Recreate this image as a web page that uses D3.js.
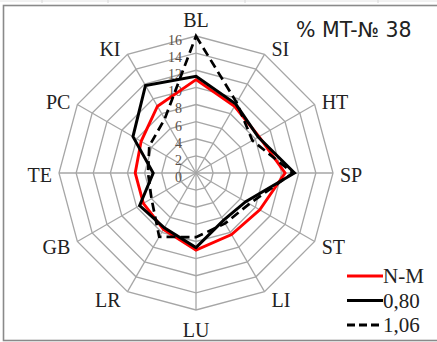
<!DOCTYPE html>
<html>
<head>
<meta charset="utf-8">
<script src="https://cdn.jsdelivr.net/npm/d3@7"></script>
<style>
  body { margin: 0; background: #fff; }
  svg { display: block; }
  .serif { font-family: "Liberation Serif", "Times New Roman", serif; }
</style>
</head>
<body>
<svg width="437" height="342"></svg>
<script>
// axes, clockwise from the top
const axes = ["BL", "SI", "HT", "SP", "ST", "LI", "LU", "LR", "GB", "TE", "PC", "KI"];
const seriesNames = ["N-M", "0,80", "1,06"];
const valuesNM  = [10.9, 9.0, 8.5, 10.4, 8.6, 8.3, 9.0, 7.6, 7.1, 7.1, 7.4, 9.0];
const values080 = [11.3, 9.3, 8.4, 11.5, 6.7, 6.4, 8.7, 7.4, 7.6, 5.0, 8.5, 11.8];
const values106 = [16.0, 9.5, 7.6, 11.3, 7.2, 6.8, 7.5, 8.6, 6.0, 5.6, 6.3, 7.3];
const tickValues = [0, 2, 4, 6, 8, 10, 12, 14, 16];
const title = "% MT-№  38";

const svg = d3.select("svg"),
      cx = 196, cy = 173,
      outer = 137;

const rScale = d3.scaleLinear().domain([0, 16]).range([0, outer]);
const aScale = d3.scaleLinear().domain([0, axes.length]).range([0, 2 * Math.PI]);

// frame
svg.append("line")
   .attr("x1", 0).attr("x2", 437).attr("y1", 1).attr("y2", 1)
   .attr("stroke", "#e4e4e4").attr("stroke-width", 1);
[42, 108, 245, 378].forEach((x) => {
   svg.append("line")
      .attr("x1", x).attr("x2", x).attr("y1", 0).attr("y2", 3)
      .attr("stroke", "#d8d8d8");
});
svg.append("rect")
   .attr("x", 3.5).attr("y", 5.5)
   .attr("width", 445).attr("height", 335)
   .attr("fill", "none")
   .attr("stroke", "#8a8a8a")
   .attr("stroke-width", 1.6);

const g = svg.append("g")
             .attr("transform", "translate(" + cx + "," + cy + ")");

const radial = d3.lineRadial()
                 .angle((d, i) => aScale(i))
                 .radius((d) => rScale(d))
                 .curve(d3.curveLinearClosed);

// grid rings
g.selectAll(".ring")
 .data(tickValues.filter((t) => t > 0))
 .enter().append("path")
 .attr("class", "ring")
 .attr("d", (t) => radial(axes.map(() => t)))
 .attr("fill", "none")
 .attr("stroke", "#a6a6a6")
 .attr("stroke-width", 1.3);

// spokes
g.selectAll(".spoke")
 .data(axes)
 .enter().append("line")
 .attr("class", "spoke")
 .attr("x1", 0).attr("y1", 0)
 .attr("x2", (d, i) => Math.sin(aScale(i)) * rScale(16))
 .attr("y2", (d, i) => -Math.cos(aScale(i)) * rScale(16))
 .attr("stroke", "#a6a6a6")
 .attr("stroke-width", 1.3);

// tick labels along the BL axis
g.selectAll(".tick")
 .data(tickValues)
 .enter().append("text")
 .attr("class", "tick serif")
 .attr("x", -14)
 .attr("y", (t) => -rScale(t) + 4)
 .attr("dy", "0.35em")
 .attr("text-anchor", "end")
 .style("font-size", "14px")
 .style("fill", "#5b5048")
 .text((t) => t);

// axis labels
const labels = g.selectAll(".axis-label")
 .data(axes)
 .enter().append("text")
 .attr("class", "axis-label serif")
 .attr("dy", "0.35em")
 .style("font-size", "20px")
 .style("fill", "#222")
 .text((d) => d);

labels.each(function(d, i) {
   const a = aScale(i),
         s = Math.sin(a), c = Math.cos(a),
         w = this.getComputedTextLength();
   const vx = s * outer, vy = -c * outer;
   let x, y;
   if (Math.abs(s) < 0.01) {
      x = vx;
      y = vy - c * 18 + 2;
   } else {
      x = vx + Math.sign(s) * (w / 2 + 7);
      y = vy - c * 8 + 1.5;
   }
   d3.select(this).attr("x", x).attr("y", y).attr("text-anchor", "middle");
});

// series
const series = [
   {name: seriesNames[0], values: valuesNM,  color: "#ff0000", width: 2.9, dash: null},
   {name: seriesNames[1], values: values080, color: "#000000", width: 3, dash: null},
   {name: seriesNames[2], values: values106, color: "#000000", width: 2.7, dash: "9,5"}
];

g.selectAll(".series")
 .data(series)
 .enter().append("path")
 .attr("class", "series")
 .attr("d", (s) => radial(s.values))
 .attr("fill", "none")
 .attr("stroke", (s) => s.color)
 .attr("stroke-width", (s) => s.width)
 .attr("stroke-dasharray", (s) => s.dash)
 .attr("stroke-linejoin", "miter");

// legend
const legend = svg.append("g")
                  .attr("transform", "translate(347,276)");
const item = legend.selectAll(".item")
 .data(series)
 .enter().append("g")
 .attr("class", "item")
 .attr("transform", (s, i) => "translate(0," + (i * 24.5) + ")");
item.append("line")
    .attr("x1", 0).attr("x2", 36)
    .attr("stroke", (s) => s.color)
    .attr("stroke-width", 3)
    .attr("stroke-dasharray", (s) => s.dash ? "8,4" : null);
item.append("text")
    .attr("class", "serif")
    .attr("x", 36)
    .attr("dy", "0.35em")
    .style("font-size", "21px")
    .style("fill", "#222")
    .text((s) => s.name);

// title
svg.append("text")
   .attr("x", 296)
   .attr("y", 30)
   .attr("dy", "0.35em")
   .style("font-family", "'DejaVu Sans', sans-serif")
   .style("font-size", "20.5px")
   .style("fill", "#222")
   .text(title);
</script>
</body>
</html>
